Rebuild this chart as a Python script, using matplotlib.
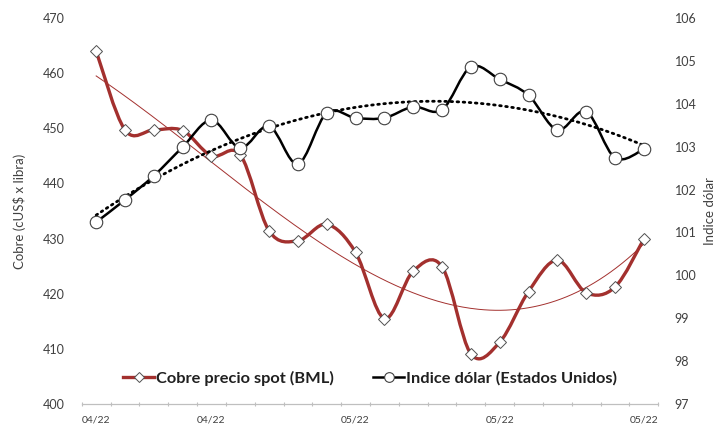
import numpy as np
import matplotlib
matplotlib.use("Agg")
import matplotlib.pyplot as plt
from matplotlib.path import Path
from matplotlib.patches import PathPatch
from matplotlib.lines import Line2D

plt.rcParams["font.family"] = ["Lato", "DejaVu Sans"]

# ── Data ──────────────────────────────────────────────────────────────────────
cobre = [464.0, 449.7, 449.7, 449.6, 445.0, 445.2, 431.4, 429.6, 432.6, 427.5,
         415.5, 424.1, 424.9, 409.1, 411.2, 420.4, 426.1, 420.2, 421.2, 429.9]
dolar = [101.24, 101.76, 102.32, 102.99, 103.62, 102.97, 103.48, 102.60, 103.79, 103.67,
         103.67, 103.93, 103.86, 104.86, 104.57, 104.20, 103.39, 103.82, 102.74, 102.94]
tick_idx = [0, 4, 9, 14, 19]
tick_lab = ["04/22", "04/22", "05/22", "05/22", "05/22"]

RED = "#A3302E"
TXT = "#404040"
GRID = "#BFBFBF"

x = np.arange(len(cobre))


def smooth_path(xs, ys):
    # Excel-style smoothed line: Catmull-Rom segments as cubic Beziers
    pts = np.column_stack([xs, ys]).astype(float)
    n = len(pts)
    verts = [pts[0]]
    codes = [Path.MOVETO]
    for i in range(n - 1):
        p0 = pts[max(i - 1, 0)]
        p1 = pts[i]
        p2 = pts[i + 1]
        p3 = pts[min(i + 2, n - 1)]
        c1 = p1 + (p2 - p0) / 6.0
        c2 = p2 - (p3 - p1) / 6.0
        verts += [c1, c2, p2]
        codes += [Path.CURVE4] * 3
    return Path(verts, codes)


fig = plt.figure(figsize=(7.17, 4.25), dpi=100)
ax = fig.add_axes([0.114, 0.0494, 0.804, 0.9082])
ax2 = ax.twinx()

# copper (left axis) + polynomial trendline
ax.add_patch(PathPatch(smooth_path(x, cobre), fill=False, edgecolor=RED, lw=2.4,
                       capstyle="round", joinstyle="round", zorder=3))
xf = np.linspace(0, len(cobre) - 1, 200)
tc = np.polyval(np.polyfit(x, cobre, 3), xf)
ax.plot(xf, tc, color=RED, lw=0.7, zorder=2)
ax.plot(x, cobre, ls="none", marker="D", ms=6.5, mfc="white", mec="#505050", mew=0.7, zorder=4)

# dollar index (right axis) + polynomial trendline
ax2.add_patch(PathPatch(smooth_path(x, dolar), fill=False, edgecolor="black", lw=1.8,
                        capstyle="round", joinstyle="round", zorder=3))
td = np.polyval(np.polyfit(x, dolar, 2), xf)
ax2.plot(xf, td, color="black", lw=2.0, ls=(0, (0.6, 1.6)), dash_capstyle="round", zorder=2)
ax2.plot(x, dolar, ls="none", marker="o", ms=9, mfc="white", mec="#404040", mew=0.8, zorder=4)

# axes
ax.set_xlim(-0.5, len(cobre) - 0.5)
ax.set_ylim(400, 470)
ax2.set_ylim(97, 106)
ax.set_yticks(np.arange(400, 471, 10))
ax2.set_yticks(np.arange(97, 107, 1))
ax.set_xticks(tick_idx)
ax.set_xticklabels(tick_lab)
ax.set_xticks(np.arange(-0.5, len(cobre), 1), minor=True)

for a in (ax, ax2):
    for s in ("top", "left", "right"):
        a.spines[s].set_visible(False)
    a.spines["bottom"].set_color(GRID)
    a.spines["bottom"].set_linewidth(0.8)
ax.tick_params(axis="y", length=0, pad=12, labelsize=9, labelcolor=TXT)
ax2.tick_params(axis="y", length=0, pad=12, labelsize=9, labelcolor=TXT)
ax.tick_params(axis="x", which="major", length=0, pad=8, labelsize=7.5, labelcolor=TXT)
ax.tick_params(axis="x", which="minor", length=3, width=0.8, color=GRID, direction="inout")

ax.set_ylabel("Cobre (cUS$ x libra)", fontsize=9.5, color=TXT, labelpad=12)
ax2.set_ylabel("Indice dólar", fontsize=9.5, color=TXT, labelpad=5)

h1 = Line2D([], [], color=RED, lw=2.4, marker="D", ms=5.5, mfc="white", mec="#505050", mew=0.7)
h2 = Line2D([], [], color="black", lw=1.8, marker="o", ms=7, mfc="white", mec="#404040", mew=0.8)
leg = ax2.legend([h1, h2], ["Cobre precio spot (BML)", "Indice dólar (Estados Unidos)"],
                 loc="center", bbox_to_anchor=(0.5, 0.067), ncol=2, frameon=False,
                 handlelength=1.9, handletextpad=0.1, columnspacing=2.4,
                 prop={"size": 11.8, "weight": "bold"})
for t in leg.get_texts():
    t.set_color("#202020")

fig.savefig("out.png", dpi=100)
